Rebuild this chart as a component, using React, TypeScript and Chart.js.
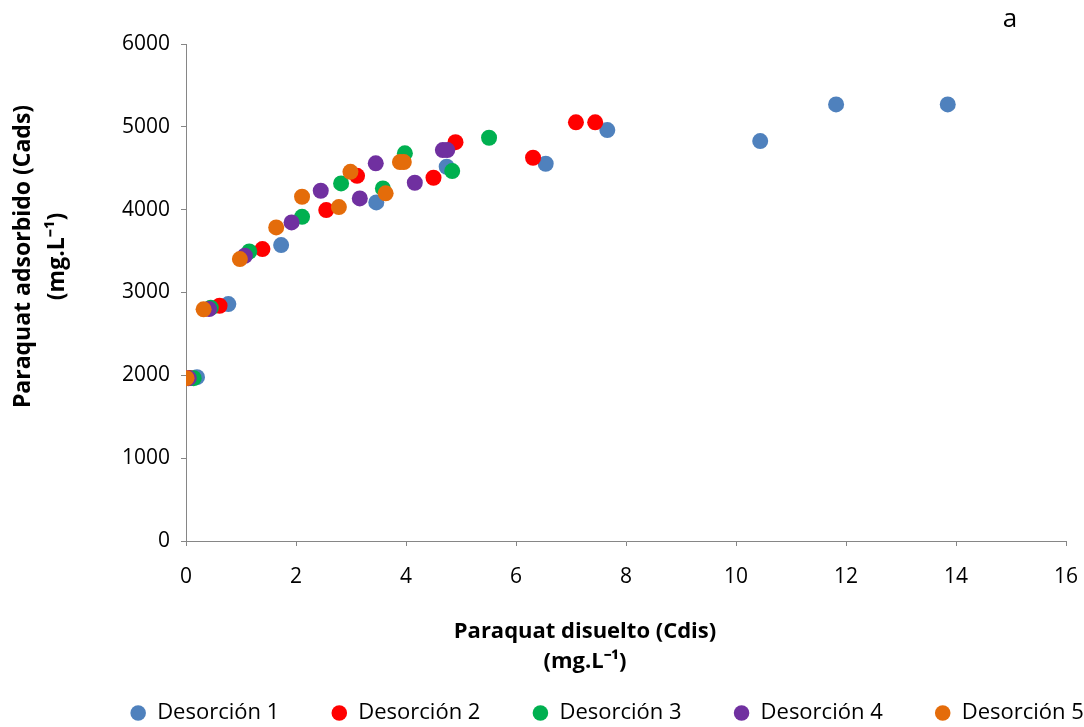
import React, { useEffect, useRef } from 'react';
import { Chart, registerables } from 'chart.js';

Chart.register(...registerables);

const seriesNames = ['Desorción 1', 'Desorción 2', 'Desorción 3', 'Desorción 4', 'Desorción 5'];
const seriesColors = ['#4F81BD', '#FF0000', '#00B050', '#7030A0', '#E46C0A'];

const d1x = [0.20, 0.77, 1.73, 3.46, 4.74, 6.54, 7.66, 10.44, 11.82, 13.85];
const d1y = [1978, 2860, 3573, 4088, 4518, 4554, 4961, 4828, 5271, 5271];

const d2x = [0.07, 0.61, 1.39, 2.55, 3.11, 4.50, 4.90, 6.31, 7.09, 7.44];
const d2y = [1968, 2840, 3524, 3995, 4409, 4385, 4815, 4627, 5054, 5054];

const d3x = [0.14, 0.45, 1.15, 2.11, 2.82, 3.58, 3.98, 4.84, 5.51];
const d3y = [1966, 2816, 3495, 3914, 4317, 4257, 4680, 4466, 4868];

const d4x = [0.05, 0.42, 1.07, 1.92, 2.45, 3.16, 3.45, 4.16, 4.67, 4.75];
const d4y = [1966, 2800, 3444, 3846, 4228, 4136, 4559, 4325, 4719, 4719];

const d5x = [0.01, 0.32, 0.98, 1.64, 2.11, 2.78, 2.99, 3.63, 3.89, 3.96];
const d5y = [1966, 2797, 3404, 3786, 4156, 4031, 4457, 4197, 4575, 4575];

const xValues = [d1x, d2x, d3x, d4x, d5x];
const yValues = [d1y, d2y, d3y, d4y, d5y];

const xMin = 0, xMax = 16, xStep = 2;
const yMin = 0, yMax = 6000, yStep = 1000;

const xTitle = ['Paraquat disuelto (Cdis)', '(mg.L⁻¹)'];
const yTitle = ['Paraquat adsorbido (Cads)', '(mg.L⁻¹)'];
const panelLabel = 'a';

const FONT = '"Open Sans"';
const AXIS_GRAY = '#868686';

export default function App() {
  const canvasRef = useRef<HTMLCanvasElement | null>(null);

  useEffect(() => {
    if (!canvasRef.current) return;
    Chart.defaults.font.family = FONT;
    Chart.defaults.color = '#000';

    const datasets = seriesNames.map((name, i) => ({
      label: name,
      data: xValues[i].map((x, j) => ({ x, y: yValues[i][j] })),
      backgroundColor: seriesColors[i],
      borderColor: seriesColors[i],
      pointRadius: 8,
      pointHoverRadius: 8,
      pointBorderWidth: 0,
      pointStyle: 'circle',
      showLine: false,
      order: seriesNames.length - i,
    }));

    const textPlugin = {
      id: 'axisTitlesAndLabel',
      afterDraw(chart: any) {
        const { ctx, chartArea } = chart;
        ctx.save();
        ctx.fillStyle = '#000';
        ctx.textAlign = 'center';
        ctx.textBaseline = 'middle';
        // panel label
        ctx.font = `26px ${FONT}`;
        ctx.fillText(panelLabel, chartArea.right - 56, chartArea.top - 24);
        // x axis title
        ctx.font = `bold 22px ${FONT}`;
        const xc = (chartArea.left + chartArea.right) / 2 - 41;
        xTitle.forEach((line, k) => {
          ctx.fillText(line, xc, chartArea.bottom + 91 + k * 30);
        });
        // y axis title (rotated)
        ctx.font = `bold 23px ${FONT}`;
        const yc = (chartArea.top + chartArea.bottom) / 2 - 36;
        ctx.translate(chartArea.left - 163, yc);
        ctx.rotate(-Math.PI / 2);
        yTitle.forEach((line, k) => {
          ctx.fillText(line, 0, k * 34);
        });
        ctx.restore();
      },
    };

    const legendShift = {
      id: 'legendShift',
      afterLayout(chart: any) {
        const lg = chart.legend;
        if (lg) {
          lg.left += 74;
          lg.right += 74;
        }
      },
    };

    const plainNumber = (v: any) => String(v);

    const chart = new Chart(canvasRef.current, {
      type: 'scatter',
      data: { datasets: datasets as any },
      plugins: [textPlugin, legendShift],
      options: {
        animation: false,
        responsive: false,
        layout: { padding: { top: 44, right: 18, left: 0, bottom: -7 } },
        plugins: {
          legend: {
            display: true,
            position: 'bottom',
            reverse: true,
            labels: {
              usePointStyle: true,
              pointStyle: 'circle',
              boxWidth: 16,
              boxHeight: 11,
              padding: 52,
              color: '#000',
              font: { family: FONT, size: 22 },
            },
          },
          tooltip: { enabled: false },
        },
        scales: {
          x: {
            type: 'linear',
            min: xMin,
            max: xMax,
            afterFit: (scale: any) => {
              scale.height = 109;
              scale.paddingLeft = 0;
              scale.paddingRight = 0;
            },
            ticks: {
              stepSize: xStep,
              color: '#000',
              padding: 18,
              font: { family: FONT, size: 21 },
              callback: plainNumber,
            },
            grid: {
              display: true,
              drawOnChartArea: false,
              drawTicks: true,
              tickLength: 5,
              color: AXIS_GRAY,
            },
            border: { display: true, color: AXIS_GRAY, width: 1 },
            title: { display: false },
          },
          y: {
            type: 'linear',
            min: yMin,
            max: yMax,
            afterFit: (scale: any) => { scale.width = 186; },
            ticks: {
              stepSize: yStep,
              color: '#000',
              padding: 11,
              font: { family: FONT, size: 21 },
              callback: plainNumber,
            },
            grid: {
              display: true,
              drawOnChartArea: false,
              drawTicks: true,
              tickLength: 5,
              color: AXIS_GRAY,
            },
            border: { display: true, color: AXIS_GRAY, width: 1 },
            title: { display: false },
          },
        },
      },
    });

    return () => chart.destroy();
  }, []);

  return (
    <div style={{ position: 'fixed', left: 0, top: 0, width: 1084, height: 727, background: '#fff' }}>
      <canvas ref={canvasRef} width={1084} height={727} style={{ display: 'block' }} />
    </div>
  );
}
